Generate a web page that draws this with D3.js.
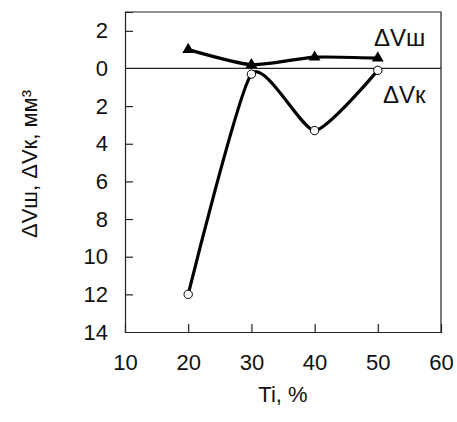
<!DOCTYPE html>
<html>
<head>
<meta charset="utf-8">
<script src="https://cdn.jsdelivr.net/npm/d3@7"></script>
<style>
  body { margin: 0; background: #fff; }
  text { font-family: "Liberation Sans", Arial, sans-serif; fill: #111; }
</style>
</head>
<body>
<svg id="chart" width="457" height="422"></svg>
<script>
// Ti content, %
const tiValues = [20, 30, 40, 50];
// ΔVш series (filled triangles)
const dVsh = [1.0, 0.2, 0.6, 0.55];
// ΔVк series (open circles)
const dVk = [-12.0, -0.3, -3.3, -0.1];

const xTicks = [10, 20, 30, 40, 50, 60];
const yTicks = [2, 0, -2, -4, -6, -8, -10, -12, -14];

// layout
const width = 457, height = 422;
const pad_left = 125, pad_right = 16, pad_top = 12, pad_bottom = 90;

const svg = d3.select('#chart');

const xScale = d3.scaleLinear().domain([10, 60]).range([pad_left, width - pad_right]);
const yScale = d3.scaleLinear().domain([3, -14]).range([pad_top, height - pad_bottom]);

const x0 = xScale(10), x1 = xScale(60), yTop = yScale(3), yBot = yScale(-14);

// frame (top and right)
svg.append('path')
    .attr('d', `M${x0},${yTop}H${x1}V${yBot}`)
    .attr('fill', 'none').attr('stroke', '#222').attr('stroke-width', 1.2);

// zero line
svg.append('line')
    .attr('x1', x0).attr('x2', x1)
    .attr('y1', yScale(0)).attr('y2', yScale(0))
    .attr('stroke', '#222').attr('stroke-width', 1.2);

// y axis, ticks inside
let yAxis = d3.axisLeft(yScale).tickValues(yTicks)
    .tickSize(-8).tickPadding(17)
    .tickFormat(d => Math.abs(d));
let gy = svg.append('g').attr('transform', `translate(${x0},0)`).call(yAxis);
gy.select('.domain').attr('stroke', '#222').attr('stroke-width', 1.2);
gy.selectAll('.tick line').attr('stroke', '#222').attr('stroke-width', 1.2)
    .filter(d => d === -14 || d === 0).remove();
gy.selectAll('text').style('font-size', '22px').style('font-family', '"Liberation Sans", Arial, sans-serif').attr('fill', '#111');

// x axis, ticks inside
let xAxis = d3.axisBottom(xScale).tickValues(xTicks)
    .tickSize(-8).tickPadding(22);
let gx = svg.append('g').attr('transform', `translate(0,${yBot})`).call(xAxis);
gx.select('.domain').attr('stroke', '#222').attr('stroke-width', 1.2);
gx.selectAll('.tick line').attr('stroke', '#222').attr('stroke-width', 1.2)
    .filter(d => d === 10 || d === 60).remove();
gx.selectAll('text').style('font-size', '22px').style('font-family', '"Liberation Sans", Arial, sans-serif').attr('fill', '#111');

// axis titles
svg.append('text')
    .attr('x', xScale(35)).attr('y', 402)
    .attr('text-anchor', 'middle')
    .style('font-size', '22px')
    .text('Ti, %');

svg.append('text')
    .attr('transform', `translate(37,${(yTop + yBot) / 2 - 8}) rotate(-90)`)
    .attr('text-anchor', 'middle')
    .style('font-size', '22px')
    .text('ΔVш, ΔVк, мм³');

// lines
const line = d3.line()
    .x(d => xScale(d[0]))
    .y(d => yScale(d[1]))
    .curve(d3.curveCardinal.tension(0.4));

const kData = tiValues.map((t, i) => [t, dVk[i]]);
const shData = tiValues.map((t, i) => [t, dVsh[i]]);

svg.append('path').datum(kData)
    .attr('d', line).attr('fill', 'none')
    .attr('stroke', '#000').attr('stroke-width', 3.2);

svg.selectAll('.kpt').data(kData).join('circle')
    .attr('class', 'kpt')
    .attr('cx', d => xScale(d[0])).attr('cy', d => yScale(d[1]))
    .attr('r', 4.2)
    .attr('fill', '#fff').attr('stroke', '#000').attr('stroke-width', 1);

svg.append('path').datum(shData)
    .attr('d', line).attr('fill', 'none')
    .attr('stroke', '#000').attr('stroke-width', 3.2);

const tri = d3.symbol().type(d3.symbolTriangle).size(60);
svg.selectAll('.shpt').data(shData).join('path')
    .attr('class', 'shpt')
    .attr('transform', d => `translate(${xScale(d[0])},${yScale(d[1])})`)
    .attr('d', tri)
    .attr('fill', '#000');

// series labels
svg.append('text').attr('x', 374).attr('y', 46)
    .style('font-size', '24px').text('ΔVш');
svg.append('text').attr('x', 383).attr('y', 103)
    .style('font-size', '24px').text('ΔVк');
</script>
</body>
</html>
